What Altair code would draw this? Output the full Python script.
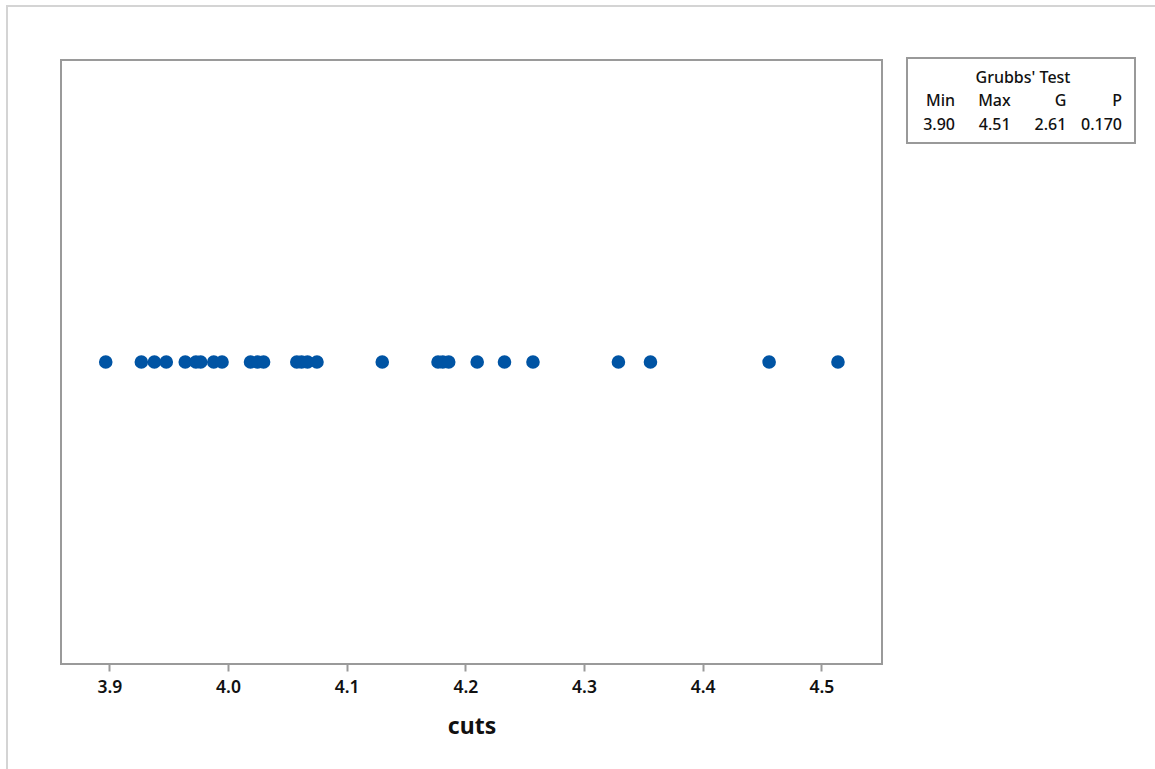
import altair as alt
import pandas as pd

# Observed values of "cuts"
cuts = [3.897, 3.927, 3.938, 3.948, 3.964, 3.973, 3.977, 3.988, 3.995,
        4.019, 4.025, 4.030, 4.058, 4.062, 4.067, 4.075, 4.130,
        4.177, 4.181, 4.186, 4.210, 4.233, 4.257, 4.329, 4.356,
        4.456, 4.514]

tick_values = [3.9, 4.0, 4.1, 4.2, 4.3, 4.4, 4.5]

# Grubbs' test summary table
table_title = "Grubbs' Test"
table_headers = ["Min", "Max", "G", "P"]
table_values = ["3.90", "4.51", "2.61", "0.170"]

FONT = "Noto Sans"
BLUE = "#0054a4"

points_df = pd.DataFrame({"cuts": cuts})
table_df = pd.DataFrame(
    {"col": table_headers * 2,
     "row": ["head"] * len(table_headers) + ["val"] * len(table_values),
     "label": table_headers + table_values}
)

W, H = 821, 604

outer = alt.Chart(pd.DataFrame({"a": [0]})).mark_rect(
    fillOpacity=0, stroke="#d4d4d4", strokeWidth=2
).encode(x=alt.value(-54), x2=alt.value(1200), y=alt.value(-54), y2=alt.value(800))

dots = alt.Chart(points_df).mark_circle(size=185, opacity=1, color=BLUE).encode(
    x=alt.X(
        "cuts:Q",
        title="cuts",
        scale=alt.Scale(domain=[3.8593, 4.5511], nice=False, zero=False),
        axis=alt.Axis(values=tick_values, format=".1f", grid=False, domain=False,
                      tickColor="#9a9a9a", tickWidth=2, tickSize=7,
                      labelFontSize=17.5, labelFontWeight=600, labelColor="#111111",
                      labelPadding=7, titleFontSize=23, titleFontWeight="bold",
                      titleColor="#111111", titlePadding=20, labelFont=FONT,
                      titleFont=FONT),
    )
)

box = alt.Chart(pd.DataFrame({"a": [0]})).mark_rect(
    fill="white", stroke="#999999", strokeWidth=2
).encode(x=alt.value(846), x2=alt.value(1074), y=alt.value(-2), y2=alt.value(83))

box_title = alt.Chart(pd.DataFrame({"t": [table_title]})).mark_text(
    font=FONT, fontSize=16, fontWeight=500, color="#111111", baseline="middle"
).encode(x=alt.value(962), y=alt.value(18), text="t:N")

table = alt.Chart(table_df).mark_text(
    font=FONT, fontSize=16, fontWeight=500, color="#111111",
    align="right", baseline="middle"
).encode(
    x=alt.X("col:N", sort=table_headers, axis=None,
            scale=alt.Scale(type="point", domain=table_headers,
                            range=[894, 1061], padding=0)),
    y=alt.Y("row:N", axis=None,
            scale=alt.Scale(type="point", domain=["head", "val"],
                            range=[41, 65], padding=0)),
    text="label:N",
)

chart = alt.layer(outer, dots, box, box_title, table).resolve_scale(
    x="independent", y="independent"
).properties(
    width=W, height=H,
    autosize=alt.AutoSizeParams(type="none"),
    padding={"left": 61, "top": 60, "right": 273, "bottom": 105},
    background="white",
).configure_view(stroke="#9a9a9a", strokeWidth=2)

chart.save("out.html", embed_options={"renderer": "svg", "actions": False})
